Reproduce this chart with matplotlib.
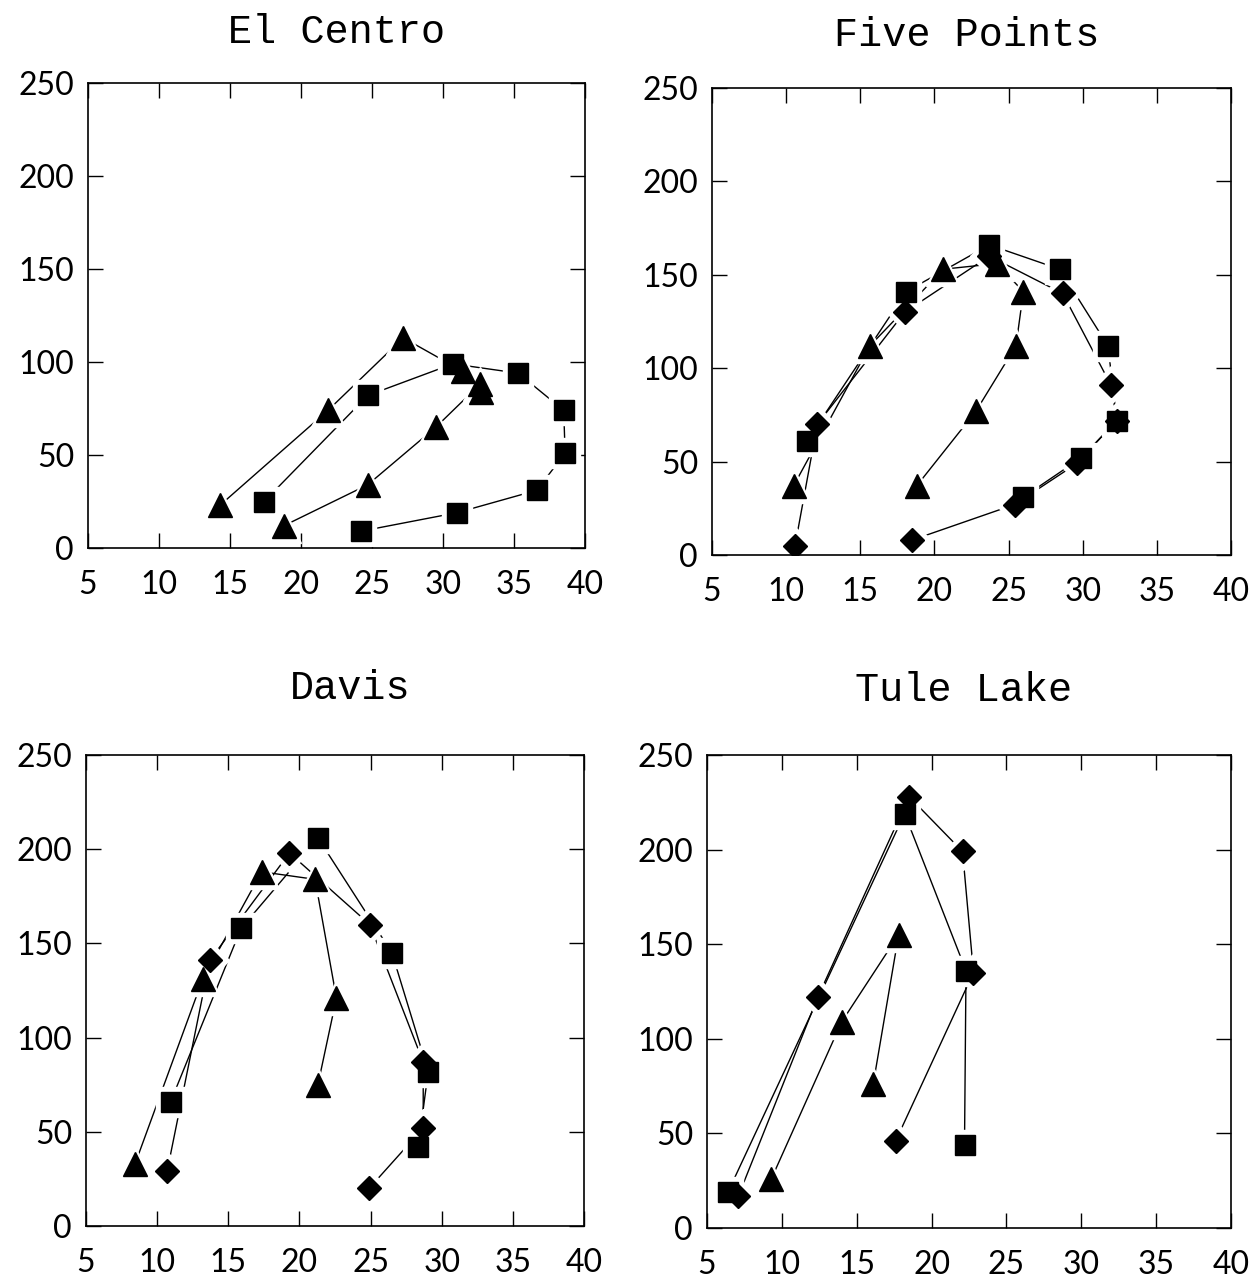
import matplotlib.pyplot as plt

# values (x, y per marker type)

# El Centro
ec_tri_x = [14.3, 21.9, 27.2, 31.4, 32.7, 32.6, 29.5, 24.7, 18.8]
ec_tri_y = [23, 74, 113, 95, 84, 88, 65, 34, 12]
ec_sq_x = [17.4, 24.7, 30.7, 35.3, 38.5, 38.6, 36.6, 31.0, 24.2]
ec_sq_y = [25, 82, 99, 94, 74, 51, 31, 19, 9]

# Five Points
fp_sq_x = [11.4, 18.1, 23.7, 28.45, 31.7, 32.3, 29.9, 26.0]
fp_sq_y = [61, 141, 166, 153, 112, 72, 52, 31]
fp_di_x = [10.6, 12.1, 18.0, 23.7, 28.65, 31.9, 32.3, 29.6, 25.4, 18.5]
fp_di_y = [5, 70, 130, 160, 140, 91, 72, 49, 27, 8]
fp_tri_x = [10.5, 15.65, 20.6, 24.2, 26.0, 25.5, 22.8, 18.8]
fp_tri_y = [37, 112, 153, 156, 141, 112, 77, 37]

# Davis
dv_sq_x = [10.95, 15.9, 21.3, 26.5, 29.05, 28.35]
dv_sq_y = [66, 158, 206, 145, 82, 42]
dv_di_x = [10.7, 13.7, 19.3, 24.95, 28.7, 28.7, 24.9]
dv_di_y = [29, 141, 198, 160, 87, 52, 20]
dv_tri_x = [8.45, 13.2, 17.35, 21.1, 22.6, 21.3]
dv_tri_y = [33, 131, 188, 184, 121, 75]

# Tule Lake
tl_di_x = [7.1, 12.4, 18.5, 22.07, 22.8, 17.6]
tl_di_y = [17, 122, 228, 199, 135, 46]
tl_sq_x = [6.4, 18.2, 22.3, 22.2]
tl_sq_y = [19, 219, 136, 44]
tl_tri_x = [9.3, 14.0, 17.8, 16.1]
tl_tri_y = [26, 109, 155, 76]

xticks = [5, 10, 15, 20, 25, 30, 35, 40]
yticks = [0, 50, 100, 150, 200, 250]

tick_font = dict(family=['Lato', 'DejaVu Sans'], weight='normal', size=23,
                 color='black')
title_font = dict(family=['Liberation Mono', 'DejaVu Sans Mono'], size=29)

msize = {'^': 17, 's': 14, 'D': 12}


def panel(fig, rect, title, title_x, title_y, series):
    ax = fig.add_axes(rect)
    # lines first, then white halos to break lines near symbols, then symbols
    for xs, ys, m in series:
        ax.plot(xs, ys, color='black', lw=1.0, zorder=1)
    for xs, ys, m in series:
        ax.plot(xs, ys, ls='none', marker=m, ms=msize[m] + 7,
                mfc='white', mec='white', zorder=2)
    for xs, ys, m in series:
        ax.plot(xs, ys, ls='none', marker=m, ms=msize[m],
                mfc='black', mec='black', zorder=3)
    ax.set_xlim(5, 40)
    ax.set_ylim(0, 250)
    ax.set_xticks(xticks)
    ax.set_yticks(yticks)
    ax.set_xticklabels([str(t) for t in xticks], fontdict=tick_font)
    ax.set_yticklabels([str(t) for t in yticks], fontdict=tick_font)
    ax.tick_params(direction='in', length=11, width=1.0,
                   top=True, right=True)
    ax.tick_params(axis='x', pad=16)
    ax.tick_params(axis='y', pad=10)
    for sp in ax.spines.values():
        sp.set_linewidth(1.2)
    ax.text(title_x, title_y, title, transform=ax.transAxes,
            ha='center', va='center', fontdict=title_font)
    return ax


fig = plt.figure(figsize=(12.56, 12.80), dpi=100)

W, H = 1256.0, 1280.0


def rect(l, r, t, b):
    return [l / W, 1 - b / H, (r - l) / W, (b - t) / H]


panel(fig, rect(88, 585, 83, 548), 'El Centro', 0.5, 1.11,
      [(ec_tri_x, ec_tri_y, '^'), (ec_sq_x, ec_sq_y, 's')])
panel(fig, rect(712, 1231, 88, 555), 'Five Points', 0.49, 1.113,
      [(fp_tri_x, fp_tri_y, '^'), (fp_di_x, fp_di_y, 'D'), (fp_sq_x, fp_sq_y, 's')])
panel(fig, rect(86, 584, 755, 1226), 'Davis', 0.53, 1.142,
      [(dv_tri_x, dv_tri_y, '^'), (dv_di_x, dv_di_y, 'D'), (dv_sq_x, dv_sq_y, 's')])
panel(fig, rect(707, 1231, 755, 1228), 'Tule Lake', 0.49, 1.137,
      [(tl_tri_x, tl_tri_y, '^'), (tl_di_x, tl_di_y, 'D'), (tl_sq_x, tl_sq_y, 's')])

fig.savefig('out.png', dpi=100)
